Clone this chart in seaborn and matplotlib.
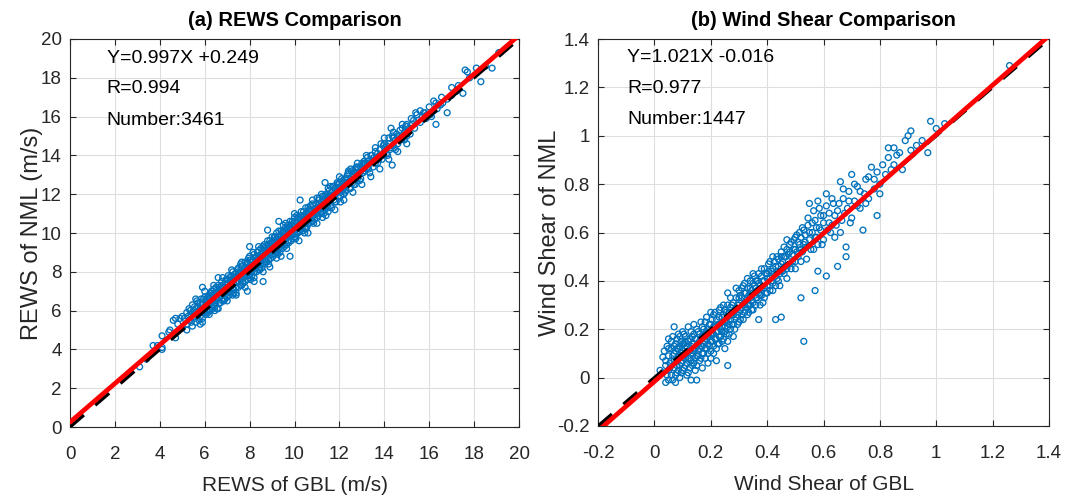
import matplotlib
matplotlib.use("Agg")
import matplotlib.pyplot as plt
import numpy as np
import pandas as pd
import seaborn as sns

# ---- REWS: (GBL, NML) pairs in m/s ----
rews_pairs = [
    (3.1, 3.1), (3.4, 3.5), (3.7, 4.2), (3.9, 4.2), (4.1, 4.0), (4.1, 4.7), (4.1, 4.1),
    (4.4, 4.9), (4.45, 5.0), (4.6, 5.5), (4.7, 4.6), (4.7, 5.6), (4.8, 5.3), (4.9, 5.6),
    (5.0, 5.1), (5.0, 5.7),
    (5.1, 5.6), (5.2, 5.3), (5.2, 5.9), (5.3, 5.5), (5.3, 6.1), (5.4, 5.4), (5.4, 5.8),
    (5.45, 6.3), (5.5, 5.7), (5.5, 6.0),
    (5.55, 5.6), (5.6, 6.1), (5.6, 5.9), (5.65, 6.5), (5.7, 5.8), (5.7, 6.2), (5.75, 6.0),
    (5.8, 6.4), (5.8, 5.7), (5.85, 6.1), (5.9, 6.3), (5.9, 5.9), (5.9, 7.2), (5.9, 5.4),
    (5.95, 6.6), (5.95, 6.0),
    (6.0, 6.2), (6.0, 5.9), (6.05, 6.5), (6.1, 6.3), (6.1, 6.0), (6.15, 6.7), (6.2, 6.4),
    (6.2, 6.1), (6.25, 6.9), (6.3, 6.5), (6.3, 6.2), (6.35, 6.6), (6.4, 6.8), (6.4, 6.3),
    (6.45, 6.5), (6.5, 6.9), (6.5, 6.4), (6.5, 7.2),
    (6.55, 6.6), (6.6, 7.0), (6.6, 6.7), (6.65, 6.4), (6.7, 7.1), (6.7, 6.8), (6.75, 7.3),
    (6.8, 6.9), (6.8, 7.2), (6.85, 6.6), (6.9, 7.0), (6.9, 7.4), (6.95, 7.1), (7.0, 7.2),
    (7.0, 6.9), (7.0, 7.6), (6.6, 7.7),
    (7.05, 7.4), (7.1, 7.2), (7.1, 6.8), (7.15, 7.5), (7.2, 7.3), (7.2, 7.8), (7.25, 7.1),
    (7.3, 7.6), (7.3, 7.4), (7.35, 7.9), (7.4, 7.5), (7.4, 7.2), (7.45, 7.7), (7.5, 7.8),
    (7.5, 7.5), (7.5, 8.2), (7.3, 6.9),
    (7.55, 7.7), (7.6, 8.0), (7.6, 7.6), (7.65, 8.3), (7.7, 7.9), (7.7, 7.5), (7.75, 8.1),
    (7.8, 8.0), (7.8, 8.5), (7.85, 7.8), (7.9, 8.2), (7.9, 7.9), (7.9, 7.0), (7.95, 8.4),
    (8.0, 8.1), (8.0, 7.8), (8.0, 8.8), (8.0, 9.3),
    (8.05, 8.3), (8.1, 8.5), (8.1, 8.0), (8.15, 8.6), (8.2, 8.3), (8.2, 8.9), (8.25, 8.2),
    (8.3, 8.6), (8.3, 8.4), (8.35, 9.0), (8.4, 8.5), (8.4, 8.1), (8.45, 8.8), (8.5, 8.7),
    (8.5, 8.4), (8.5, 9.2), (8.2, 7.7), (8.6, 7.5),
    (8.55, 8.8), (8.6, 9.0), (8.6, 8.6), (8.65, 9.4), (8.7, 8.9), (8.7, 8.5), (8.75, 9.1),
    (8.8, 9.0), (8.8, 9.6), (8.85, 8.8), (8.9, 9.2), (8.9, 8.9), (8.95, 9.5), (9.0, 9.3),
    (9.0, 8.9), (9.0, 9.8),
    (9.05, 9.2), (9.1, 9.5), (9.1, 9.1), (9.15, 9.8), (9.2, 9.4), (9.2, 9.0), (9.25, 9.6),
    (9.3, 9.5), (9.3, 10.1), (9.3, 10.6), (9.35, 9.3), (9.4, 9.7), (9.4, 9.4), (9.45, 10.0),
    (9.5, 9.8), (9.5, 9.4), (9.5, 10.4), (9.2, 8.7),
    (9.55, 9.7), (9.6, 10.0), (9.6, 9.5), (9.65, 10.2), (9.7, 9.9), (9.7, 9.6), (9.75, 10.3),
    (9.8, 10.0), (9.8, 10.6), (9.85, 9.8), (9.9, 10.2), (9.9, 9.9), (9.95, 10.5), (10.0, 10.3),
    (10.0, 9.8), (10.0, 11.0),
    (10.05, 10.2), (10.1, 10.5), (10.1, 10.0), (10.15, 10.8), (10.2, 10.4), (10.2, 10.1),
    (10.25, 10.7), (10.3, 10.5), (10.3, 11.1), (10.35, 10.3), (10.4, 10.7), (10.45, 10.9),
    (10.5, 10.6), (10.5, 10.2), (10.5, 11.3),
    (10.55, 10.8), (10.6, 11.0), (10.6, 10.5), (10.65, 11.2), (10.7, 10.9), (10.75, 10.6),
    (10.8, 11.1), (10.8, 11.5), (10.85, 10.9), (10.9, 11.2), (10.95, 11.0), (11.0, 11.3),
    (11.0, 10.8), (11.0, 11.8),
    (11.05, 11.2), (11.1, 11.5), (11.15, 11.1), (11.2, 11.6), (11.25, 11.3), (11.3, 11.7),
    (11.3, 11.0), (11.35, 11.9), (11.4, 11.6), (11.45, 11.4), (11.5, 11.8), (11.5, 12.3),
    (11.5, 11.3),
    (11.55, 11.9), (11.6, 11.7), (11.65, 12.1), (11.7, 11.9), (11.75, 12.4), (11.8, 12.0),
    (11.8, 11.6), (11.85, 12.2), (11.9, 12.1), (11.95, 12.5), (12.0, 12.2), (12.0, 11.8),
    (12.05, 12.4), (12.1, 12.2), (12.15, 12.7), (12.2, 12.4), (12.25, 12.1), (12.3, 12.6),
    (12.35, 13.0), (12.4, 12.6), (12.45, 12.3), (12.5, 12.8), (12.5, 13.3),
    (12.55, 12.7), (12.6, 13.0), (12.65, 12.5), (12.7, 13.1), (12.75, 12.9), (12.8, 13.4),
    (12.85, 13.0), (12.9, 12.7), (12.95, 13.2), (13.0, 13.3),
    (13.05, 13.5), (13.1, 13.2), (13.15, 13.6), (13.2, 13.3), (13.3, 13.7), (13.35, 13.1),
    (13.4, 13.6), (13.45, 14.0), (13.5, 13.7),
    (13.55, 13.9), (13.6, 13.6), (13.7, 14.1), (13.75, 13.8), (13.8, 14.3), (13.9, 14.0),
    (13.95, 14.5), (14.0, 14.2),
    (14.05, 14.4), (14.1, 14.1), (14.2, 14.6), (14.3, 14.4), (14.3, 15.4), (14.35, 15.0),
    (14.35, 13.5), (14.4, 14.5), (14.5, 14.8), (14.5, 14.3),
    (14.6, 14.9), (14.7, 15.3), (14.8, 14.9), (14.9, 15.2), (15.0, 15.0), (15.0, 15.6),
    (15.0, 15.5), (15.2, 15.9), (15.3, 15.8), (15.4, 16.2), (15.5, 15.8), (15.6, 16.3),
    (15.7, 16.0), (15.8, 16.2), (15.9, 16.1), (16.0, 16.5), (16.1, 16.0), (16.2, 16.3),
    (16.3, 16.7), (16.3, 15.6), (16.4, 16.6), (16.6, 16.7), (16.8, 16.2), (17.0, 17.1),
    (17.2, 17.3), (17.5, 17.2), (17.6, 18.4), (17.7, 18.3), (18.3, 17.8), (18.8, 18.5),
    (19.1, 19.3),
    (5.2, 5.0), (5.25, 5.7), (5.35, 6.0), (5.45, 5.2), (5.55, 6.2), (5.6, 5.4), (5.7, 6.4),
    (5.75, 5.5), (5.85, 6.6), (5.9, 5.6), (6.0, 6.7), (6.05, 5.8), (6.1, 6.6), (6.15, 5.9),
    (6.2, 6.8), (6.25, 6.0), (6.3, 7.0), (6.35, 6.1), (6.4, 7.1), (6.45, 6.2), (6.5, 6.7),
    (6.55, 6.1), (6.6, 7.3), (6.65, 6.9), (6.7, 6.4), (6.75, 7.5), (6.8, 6.5), (6.85, 7.2),
    (6.9, 6.6), (6.95, 7.6), (7.0, 6.7), (7.05, 7.8), (7.1, 7.0), (7.15, 6.9), (7.2, 7.6),
    (7.25, 8.0), (7.3, 7.1), (7.35, 7.7), (7.4, 6.9), (7.45, 8.1), (7.5, 7.2), (7.55, 7.9),
    (7.6, 7.3), (7.65, 8.5), (7.7, 7.4), (7.75, 8.0), (7.8, 7.5), (7.85, 8.4), (7.9, 7.6),
    (7.95, 8.7), (8.0, 7.7), (8.05, 8.5), (8.1, 7.8), (8.15, 9.0), (8.2, 8.0), (8.25, 8.7),
    (8.3, 8.0), (8.35, 8.6), (8.4, 9.1), (8.45, 8.2), (8.5, 8.9), (8.55, 8.2), (8.6, 9.3),
    (8.65, 8.4), (8.7, 9.2), (8.75, 8.5), (8.8, 9.4), (8.85, 8.6), (8.9, 9.6), (8.95, 8.7),
    (9.0, 9.5), (9.05, 8.8), (9.1, 9.8), (9.15, 9.0), (9.2, 9.7), (9.25, 9.1), (9.3, 9.8),
    (9.35, 9.0), (9.4, 10.1), (9.45, 9.2), (9.5, 10.0), (9.55, 9.3), (9.6, 10.3), (9.65, 9.4),
    (9.7, 10.4), (9.75, 9.5), (9.8, 10.3), (9.85, 9.6), (9.9, 10.6), (9.95, 9.7), (10.0, 10.6),
    (10.05, 9.8), (10.1, 10.9), (10.15, 10.0), (10.2, 10.8), (10.25, 10.1), (10.3, 10.8),
    (10.35, 10.1), (10.4, 11.1), (10.45, 10.3), (10.5, 11.0), (10.55, 10.3), (10.6, 11.3),
    (10.65, 10.5), (10.7, 11.4), (10.75, 10.8), (10.8, 10.6), (10.85, 11.4), (10.9, 10.7),
    (10.95, 11.5), (11.0, 11.0), (11.05, 10.9), (11.1, 11.8), (11.15, 11.4), (11.2, 11.0),
    (11.25, 11.9), (11.3, 11.4), (11.35, 11.2), (11.4, 12.0), (11.45, 11.7), (11.5, 11.1),
    (11.55, 12.2), (11.6, 11.4), (11.65, 11.8), (11.7, 12.4), (11.75, 11.7), (11.8, 12.3),
    (11.85, 11.6), (11.9, 12.6), (11.95, 11.9), (12.0, 12.6), (12.05, 11.9), (12.1, 12.8),
    (12.15, 12.2), (12.2, 12.0), (12.25, 12.8), (12.3, 12.2), (12.35, 12.5), (12.4, 13.1),
    (12.45, 12.6), (12.5, 12.3), (12.55, 13.2), (12.6, 12.6), (12.65, 12.9), (12.7, 12.5),
    (12.75, 13.4), (12.8, 12.8), (12.85, 13.3), (12.9, 13.1), (12.95, 12.8), (13.0, 13.6),
    (13.05, 13.1), (13.1, 13.7), (13.15, 13.2), (13.25, 13.9), (13.3, 13.3), (13.4, 14.0),
    (13.5, 13.4), (13.6, 14.2), (13.65, 13.9), (13.7, 13.6), (13.8, 14.0), (13.85, 14.6),
    (13.9, 13.8), (14.0, 14.6), (14.1, 14.5), (14.15, 14.0), (14.2, 14.9), (14.25, 14.3),
    (14.4, 14.9), (14.45, 14.4), (14.55, 15.1), (14.6, 14.6), (14.65, 15.0), (14.75, 14.8),
    (14.8, 15.4), (14.9, 14.8), (14.95, 15.5), (15.1, 15.4), (15.15, 15.1), (15.25, 15.6),
    (15.35, 15.4), (15.45, 16.1), (15.6, 15.7), (15.75, 16.2), (15.85, 15.9), (16.05, 16.1),
    (16.2, 16.8), (16.35, 16.4), (16.5, 16.6), (16.55, 17.0), (16.8, 16.9), (17.0, 17.5),
    (17.3, 17.6), (17.8, 18.0), (18.1, 18.5), (18.5, 18.6),
    (5.6, 6.6), (5.8, 5.3), (6.0, 7.0), (6.2, 5.8), (6.4, 7.3), (6.6, 6.1), (6.8, 7.7),
    (7.0, 6.5), (7.2, 8.1), (7.4, 6.8), (7.6, 8.4), (7.8, 7.2), (8.0, 8.6), (8.2, 7.5),
    (8.4, 9.3), (8.6, 8.0), (8.8, 10.15), (8.9, 8.25), (9.2, 10.0), (9.4, 8.8), (9.6, 10.5),
    (9.8, 8.8), (10.0, 10.8), (10.2, 9.6), (10.25, 11.7), (10.6, 10.0), (10.8, 11.7),
    (11.0, 10.5), (11.2, 12.0), (11.36, 12.6), (11.4, 10.9), (11.6, 12.4), (11.8, 11.2),
    (12.0, 12.9), (12.2, 11.7), (12.4, 13.2), (12.6, 12.1), (12.8, 13.6), (13.0, 12.5),
    (13.2, 14.0), (13.4, 12.9), (13.6, 14.4), (13.8, 13.3), (14.0, 14.9), (14.2, 13.8),
    (14.4, 15.2), (14.6, 14.2), (14.8, 15.6), (15.0, 14.6),
    (6.3, 6.9), (6.7, 7.2), (7.1, 7.7), (7.5, 8.0), (7.9, 8.5), (8.3, 8.8), (8.7, 9.3),
    (9.1, 9.6), (9.5, 10.1), (9.9, 10.4), (10.3, 10.9), (10.7, 11.2), (11.1, 11.7),
    (11.5, 12.0), (11.9, 12.5), (12.3, 12.8), (12.7, 13.3), (13.1, 13.6),
    (6.45, 6.0), (6.85, 6.5), (7.25, 6.8), (7.65, 7.3), (8.05, 7.6), (8.45, 8.1), (8.85, 8.4),
    (9.25, 8.9), (9.65, 9.2), (10.05, 9.7), (10.45, 10.0), (10.85, 10.5), (11.25, 10.8),
    (11.65, 11.3), (12.05, 11.6),
]

# ---- Wind shear: (GBL, NML) pairs ----
shear_pairs = [
    (0.02, 0.03), (0.03, 0.085), (0.03, 0.02), (0.035, 0.11), (0.04, 0.05), (0.04, -0.02),
    (0.045, 0.13), (0.05, 0.03), (0.05, 0.09), (0.05, 0.16), (0.05, -0.01),
    (0.055, 0.06), (0.06, 0.12), (0.06, 0.01), (0.065, 0.09), (0.065, 0.17), (0.07, 0.04),
    (0.07, 0.10), (0.075, 0.14), (0.075, -0.02), (0.08, 0.07), (0.08, 0.12), (0.08, 0.02),
    (0.085, 0.18), (0.085, 0.09), (0.09, 0.05), (0.09, 0.13), (0.09, 0.00), (0.095, 0.10),
    (0.095, 0.15), (0.10, 0.07), (0.10, 0.11), (0.10, 0.03), (0.10, 0.19), (0.07, 0.21),
    (0.105, 0.09), (0.105, 0.14), (0.11, 0.05), (0.11, 0.12), (0.11, 0.17), (0.115, 0.01),
    (0.115, 0.10), (0.12, 0.08), (0.12, 0.15), (0.12, 0.21), (0.125, 0.04), (0.125, 0.11),
    (0.13, 0.13), (0.13, 0.07), (0.13, -0.01), (0.135, 0.17), (0.135, 0.10), (0.14, 0.14),
    (0.14, 0.06), (0.14, 0.22), (0.145, 0.12), (0.145, 0.03), (0.15, 0.16), (0.15, 0.09),
    (0.15, 0.13), (0.15, -0.01),
    (0.155, 0.11), (0.155, 0.19), (0.16, 0.07), (0.16, 0.15), (0.165, 0.13), (0.165, 0.23),
    (0.17, 0.10), (0.17, 0.17), (0.17, 0.04), (0.175, 0.14), (0.175, 0.20), (0.18, 0.12),
    (0.18, 0.18), (0.18, 0.08), (0.185, 0.16), (0.185, 0.25), (0.19, 0.14), (0.19, 0.20),
    (0.19, 0.06), (0.195, 0.17), (0.20, 0.15), (0.20, 0.22), (0.20, 0.11), (0.20, 0.27),
    (0.205, 0.18), (0.21, 0.13), (0.21, 0.21), (0.21, 0.26), (0.215, 0.16), (0.22, 0.19),
    (0.22, 0.24), (0.22, 0.07), (0.225, 0.14), (0.23, 0.22), (0.23, 0.17), (0.23, 0.28),
    (0.235, 0.20), (0.24, 0.15), (0.24, 0.25), (0.24, 0.21), (0.245, 0.30), (0.25, 0.19),
    (0.25, 0.23), (0.25, 0.12),
    (0.255, 0.27), (0.26, 0.21), (0.26, 0.25), (0.26, 0.35), (0.265, 0.18), (0.27, 0.24),
    (0.27, 0.29), (0.275, 0.22), (0.28, 0.26), (0.28, 0.31), (0.28, 0.17), (0.285, 0.24),
    (0.29, 0.28), (0.29, 0.33), (0.295, 0.22), (0.30, 0.27), (0.30, 0.30), (0.30, 0.36),
    (0.26, 0.05),
    (0.305, 0.24), (0.31, 0.29), (0.31, 0.33), (0.315, 0.38), (0.32, 0.27), (0.32, 0.31),
    (0.325, 0.35), (0.33, 0.26), (0.33, 0.41), (0.335, 0.30), (0.34, 0.33), (0.34, 0.37),
    (0.345, 0.28), (0.35, 0.35), (0.35, 0.31), (0.35, 0.43),
    (0.355, 0.38), (0.36, 0.33), (0.36, 0.40), (0.365, 0.36), (0.37, 0.24), (0.37, 0.39),
    (0.375, 0.34), (0.38, 0.42), (0.38, 0.37), (0.385, 0.31), (0.39, 0.40), (0.39, 0.45),
    (0.395, 0.35), (0.40, 0.38), (0.40, 0.43),
    (0.405, 0.47), (0.41, 0.36), (0.41, 0.41), (0.415, 0.44), (0.42, 0.50), (0.42, 0.39),
    (0.425, 0.43), (0.43, 0.24), (0.43, 0.46), (0.435, 0.41), (0.44, 0.49), (0.44, 0.44),
    (0.445, 0.38), (0.45, 0.47), (0.45, 0.25), (0.45, 0.52),
    (0.455, 0.44), (0.46, 0.50), (0.465, 0.46), (0.47, 0.53), (0.47, 0.41), (0.475, 0.48),
    (0.48, 0.55), (0.485, 0.45), (0.49, 0.51), (0.495, 0.57), (0.50, 0.48), (0.50, 0.53),
    (0.505, 0.59), (0.51, 0.50), (0.515, 0.55), (0.52, 0.33), (0.52, 0.58), (0.525, 0.52),
    (0.53, 0.15), (0.53, 0.61), (0.535, 0.56), (0.54, 0.49), (0.545, 0.63), (0.55, 0.57),
    (0.55, 0.72),
    (0.56, 0.60), (0.565, 0.53), (0.57, 0.36), (0.57, 0.65), (0.575, 0.58), (0.58, 0.44),
    (0.58, 0.73), (0.585, 0.62), (0.59, 0.67), (0.595, 0.55), (0.60, 0.64),
    (0.61, 0.42), (0.61, 0.76), (0.615, 0.61), (0.62, 0.68), (0.63, 0.63), (0.635, 0.72),
    (0.64, 0.58), (0.65, 0.46), (0.65, 0.69), (0.66, 0.81), (0.665, 0.65), (0.67, 0.74),
    (0.68, 0.54), (0.68, 0.50), (0.685, 0.70), (0.69, 0.77), (0.70, 0.84), (0.70, 0.66),
    (0.71, 0.73), (0.72, 0.79), (0.73, 0.70), (0.74, 0.61), (0.745, 0.76), (0.75, 0.82),
    (0.76, 0.74), (0.77, 0.87), (0.78, 0.78), (0.79, 0.67), (0.79, 0.85), (0.80, 0.80),
    (0.82, 0.84), (0.83, 0.95), (0.83, 0.91), (0.85, 0.95), (0.85, 0.88), (0.87, 0.93),
    (0.88, 0.86), (0.90, 1.00), (0.91, 1.02), (0.91, 0.94), (0.95, 0.98), (0.97, 0.93),
    (0.98, 1.06), (1.26, 1.29),
    (0.04, 0.07), (0.045, 0.01), (0.05, 0.12), (0.055, 0.04), (0.06, 0.15), (0.06, 0.07),
    (0.065, -0.01), (0.07, 0.13), (0.07, 0.07), (0.075, 0.01), (0.075, 0.11), (0.08, 0.16),
    (0.08, 0.05), (0.085, 0.12), (0.085, 0.03), (0.09, 0.09), (0.09, 0.17), (0.095, 0.06),
    (0.095, 0.02), (0.10, 0.14), (0.10, 0.09), (0.105, 0.18), (0.105, 0.04), (0.11, 0.08),
    (0.11, 0.15), (0.115, 0.13), (0.115, 0.06), (0.12, 0.11), (0.12, 0.02), (0.125, 0.16),
    (0.125, 0.08), (0.13, 0.19), (0.13, 0.10), (0.135, 0.05), (0.135, 0.14), (0.14, 0.11),
    (0.14, 0.18), (0.145, 0.08), (0.145, 0.16), (0.15, 0.20), (0.15, 0.05), (0.155, 0.14),
    (0.155, 0.09), (0.16, 0.18), (0.16, 0.12), (0.165, 0.08), (0.165, 0.16), (0.17, 0.13),
    (0.17, 0.21), (0.175, 0.10), (0.175, 0.17), (0.18, 0.15), (0.18, 0.23), (0.185, 0.12),
    (0.185, 0.19), (0.19, 0.17), (0.19, 0.10), (0.195, 0.22), (0.195, 0.13), (0.20, 0.18),
    (0.20, 0.08), (0.205, 0.15), (0.205, 0.24), (0.21, 0.18), (0.21, 0.10), (0.215, 0.21),
    (0.215, 0.27), (0.22, 0.16), (0.22, 0.12), (0.225, 0.22), (0.225, 0.19), (0.23, 0.14),
    (0.23, 0.25), (0.235, 0.17), (0.235, 0.29), (0.24, 0.19), (0.24, 0.23), (0.245, 0.16),
    (0.245, 0.26), (0.25, 0.21), (0.25, 0.28), (0.255, 0.18), (0.255, 0.24), (0.26, 0.30),
    (0.26, 0.15), (0.265, 0.22), (0.265, 0.27), (0.27, 0.20), (0.27, 0.33), (0.275, 0.26),
    (0.275, 0.30), (0.28, 0.22), (0.285, 0.28), (0.285, 0.20), (0.29, 0.25), (0.29, 0.37),
    (0.295, 0.30), (0.295, 0.26), (0.30, 0.33), (0.30, 0.23), (0.305, 0.28), (0.305, 0.34),
    (0.31, 0.26), (0.31, 0.37), (0.315, 0.30), (0.315, 0.24), (0.32, 0.35), (0.32, 0.39),
    (0.325, 0.29), (0.325, 0.32), (0.33, 0.37), (0.33, 0.30), (0.335, 0.34), (0.335, 0.27),
    (0.34, 0.40), (0.34, 0.30), (0.345, 0.36), (0.345, 0.32), (0.35, 0.39), (0.35, 0.28),
    (0.355, 0.34), (0.355, 0.42), (0.36, 0.37), (0.36, 0.30), (0.365, 0.40), (0.365, 0.33),
    (0.37, 0.43), (0.37, 0.35), (0.375, 0.38), (0.375, 0.30), (0.38, 0.45), (0.38, 0.34),
    (0.385, 0.40), (0.39, 0.37), (0.39, 0.33), (0.395, 0.43), (0.40, 0.41), (0.40, 0.35),
    (0.405, 0.44), (0.41, 0.38), (0.41, 0.48), (0.415, 0.40), (0.42, 0.45), (0.42, 0.36),
    (0.425, 0.48), (0.43, 0.42), (0.43, 0.38), (0.435, 0.50), (0.44, 0.46), (0.44, 0.40),
    (0.445, 0.43), (0.45, 0.50), (0.45, 0.44), (0.455, 0.48), (0.46, 0.43), (0.46, 0.54),
    (0.465, 0.50), (0.47, 0.45), (0.47, 0.57), (0.475, 0.51), (0.48, 0.47), (0.48, 0.52),
    (0.485, 0.56), (0.49, 0.48), (0.495, 0.53), (0.50, 0.58), (0.50, 0.45), (0.505, 0.52),
    (0.51, 0.56), (0.515, 0.60), (0.52, 0.53), (0.52, 0.48), (0.525, 0.62), (0.53, 0.55),
    (0.535, 0.59), (0.54, 0.54), (0.545, 0.66), (0.55, 0.60), (0.555, 0.53), (0.56, 0.64),
    (0.565, 0.69), (0.57, 0.58), (0.575, 0.62), (0.58, 0.55), (0.585, 0.70), (0.59, 0.61),
    (0.60, 0.67), (0.60, 0.57), (0.61, 0.71), (0.62, 0.64), (0.625, 0.60), (0.63, 0.74),
    (0.64, 0.67), (0.645, 0.63), (0.655, 0.72), (0.66, 0.60), (0.67, 0.78), (0.675, 0.68),
    (0.69, 0.73), (0.695, 0.64), (0.71, 0.80), (0.72, 0.71), (0.73, 0.77), (0.75, 0.72),
    (0.76, 0.83), (0.78, 0.82), (0.80, 0.76), (0.81, 0.88), (0.84, 0.86), (0.86, 0.92),
    (0.89, 0.98), (0.93, 0.96), (1.00, 1.03), (1.03, 1.05),
]

# Regression results printed on each panel
rews_slope, rews_intercept, rews_r, rews_n = 0.997, 0.249, 0.994, 3461
shear_slope, shear_intercept, shear_r, shear_n = 1.021, -0.016, 0.977, 1447

rews_ticks = [0, 2, 4, 6, 8, 10, 12, 14, 16, 18, 20]
shear_ticks = [-0.2, 0, 0.2, 0.4, 0.6, 0.8, 1.0, 1.2, 1.4]
shear_tick_labels = ["-0.2", "0", "0.2", "0.4", "0.6", "0.8", "1", "1.2", "1.4"]

sns.set_style("ticks")
plt.rcParams["font.family"] = ["Liberation Sans", "DejaVu Sans"]
plt.rcParams["axes.unicode_minus"] = False

BLUE = "#0072BD"
DARK = "#262626"

fig = plt.figure(figsize=(10.84, 5.0), dpi=100)
ax_a = fig.add_axes([0.0646, 0.146, 0.4142, 0.776])
ax_b = fig.add_axes([0.5517, 0.148, 0.4160, 0.774])


def draw_panel(ax, pairs, slope, intercept, r, n, lims, ticks, tick_labels,
               title, xlabel, ylabel, text_x, ylabel_pad):
    df = pd.DataFrame(pairs, columns=["gbl", "nml"])
    sns.scatterplot(data=df, x="gbl", y="nml", ax=ax, marker="o", s=18,
                    facecolors="none", edgecolor=BLUE, linewidth=0.95, zorder=2)

    lo, hi = lims
    ref = pd.DataFrame({"x": [lo, hi], "y": [lo, hi]})
    fit = pd.DataFrame({"x": [lo, hi], "y": [slope * lo + intercept, slope * hi + intercept]})
    sns.lineplot(data=ref, x="x", y="y", ax=ax, color="black", linewidth=2.4,
                 linestyle="--", zorder=3)
    ax.lines[-1].set_dashes((5.5, 4.5))
    sns.lineplot(data=fit, x="x", y="y", ax=ax, color="red", linewidth=3.4, zorder=4)

    ax.set_xlim(lo, hi)
    ax.set_ylim(lo, hi)
    ax.set_xticks(ticks)
    ax.set_yticks(ticks)
    ax.set_xticklabels(tick_labels)
    ax.set_yticklabels(tick_labels)
    ax.grid(True, color="#dedede", linewidth=0.8)
    ax.set_axisbelow(True)
    ax.tick_params(direction="in", length=4, width=0.8, top=True, right=True,
                   colors=DARK, labelsize=13.5)
    ax.tick_params(axis="x", pad=14)
    ax.tick_params(axis="y", pad=6)
    for sp in ax.spines.values():
        sp.set_visible(True)
        sp.set_color(DARK)
        sp.set_linewidth(0.8)

    ax.set_title(title, fontsize=14.5, fontweight="bold", pad=9, color="black")
    ax.set_xlabel(xlabel, fontsize=15, color=DARK, labelpad=9)
    ax.set_ylabel(ylabel, fontsize=17, color=DARK, labelpad=ylabel_pad)

    sign = "+" if intercept >= 0 else "-"
    lines = [f"Y={slope:.3f}X {sign}{abs(intercept):.3f}", f"R={r:.3f}", f"Number:{n}"]
    for txt, yy in zip(lines, [0.951, 0.872, 0.791]):
        ax.text(text_x, yy, txt, transform=ax.transAxes, fontsize=14,
                va="center", ha="left", color="black", zorder=5)


draw_panel(ax_a, rews_pairs, rews_slope, rews_intercept, rews_r, rews_n,
           (0, 20), rews_ticks, [str(t) for t in rews_ticks],
           "(a) REWS Comparison", "REWS of GBL (m/s)", "REWS of NML (m/s)", 0.082, -1.5)
draw_panel(ax_b, shear_pairs, shear_slope, shear_intercept, shear_r, shear_n,
           (-0.2, 1.4), shear_ticks, shear_tick_labels,
           "(b) Wind Shear Comparison", "Wind Shear of GBL", "Wind Shear of NML", 0.064, -3)

fig.savefig("out.png", dpi=100)
